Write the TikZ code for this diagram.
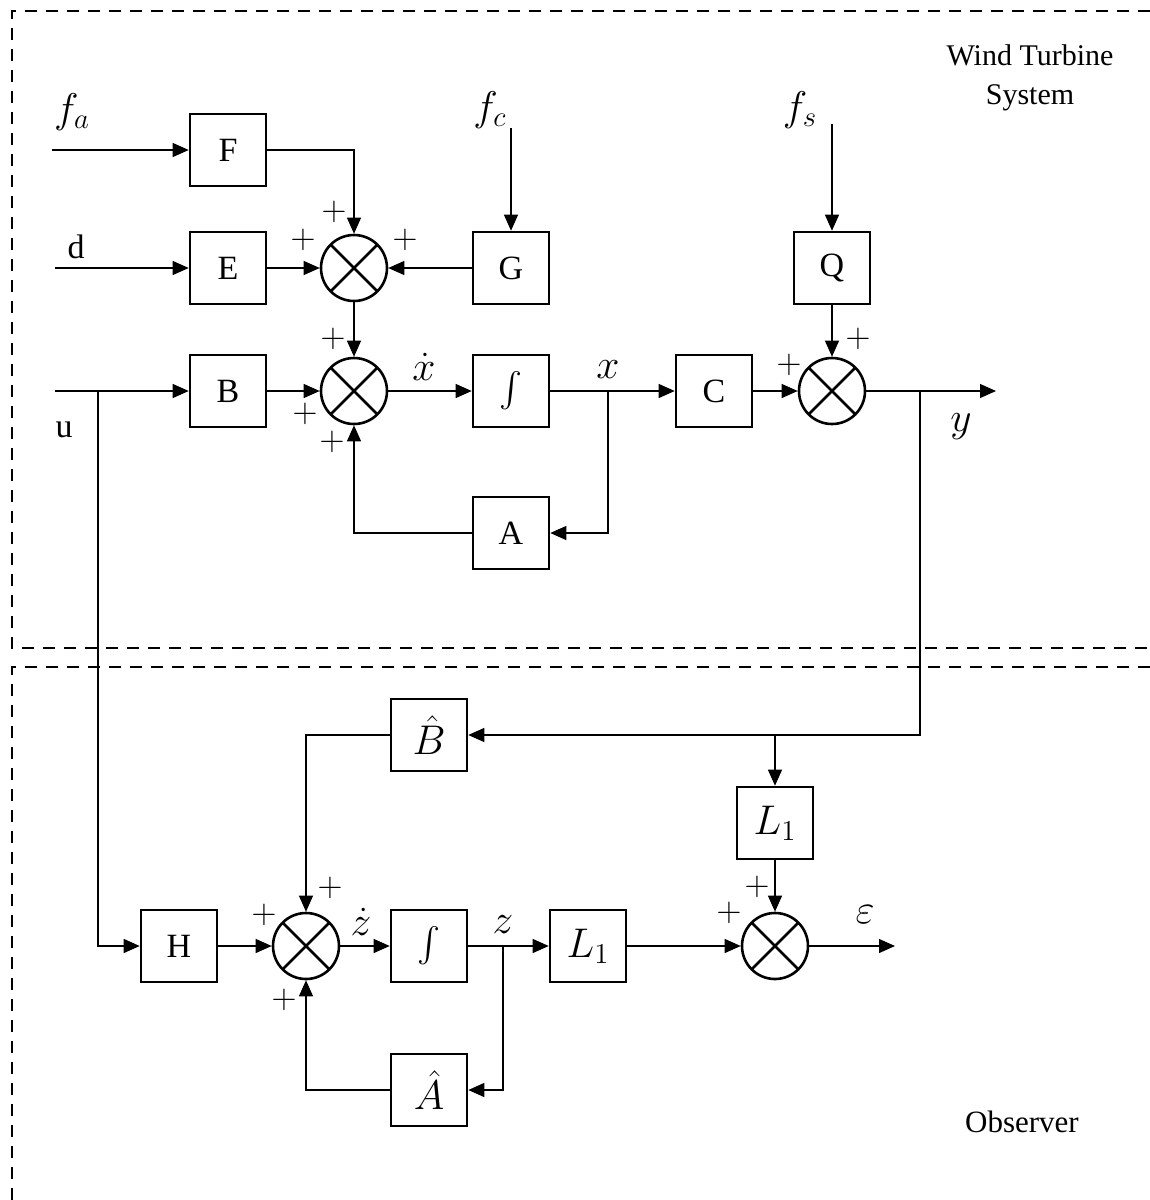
\documentclass[tikz,border=0pt]{standalone}
\usepackage{amsmath}
\usepackage{fontspec}
\setmainfont{Liberation Serif}
\usetikzlibrary{arrows.meta,positioning}

\begin{document}
\begin{tikzpicture}[x=0.5pt,y=-0.5pt,font=\fontsize{17}{20}\selectfont,
    >={Triangle[length=8pt,width=7pt]}]
  \tikzstyle{blk}=[draw,line width=1.3pt,minimum width=38pt,minimum height=36pt,inner sep=0pt]
  \tikzstyle{blkm}=[blk,font=\fontsize{20}{22}\selectfont]
  \tikzstyle{sumnode}=[draw,circle,line width=1.3pt,minimum size=33pt,inner sep=0pt,
    path picture={\draw[line width=1.3pt] (path picture bounding box.north west) -- (path picture bounding box.south east)
      (path picture bounding box.north east) -- (path picture bounding box.south west);}]
  \tikzstyle{wire}=[line width=0.6pt]
  \tikzstyle{frame}=[line width=1.4pt,dash pattern=on 6pt off 4.5pt]
  \tikzstyle{sgn}=[inner sep=0pt,font=\fontsize{17}{17}\selectfont]
  \tikzstyle{lbl}=[inner sep=0pt,font=\fontsize{20}{22}\selectfont]
  \useasboundingbox (0,0) rectangle (1150,1200);
  % dashed frames
  \draw[frame] (1150,11) -- (12,11) -- (12,648) -- (1150,648);
  \draw[frame] (1150,667) -- (12,667) -- (12,1200);
  \node[align=center,font=\fontsize{15}{19.5}\selectfont] (wts) at (1030,78) {Wind Turbine\\System};
  \node[font=\fontsize{15.5}{19.5}\selectfont] (obs) at (1022,1122) {Observer};
  % wind turbine system
  \node[blk] (F) at (228,150) {F};
  \node[blk] (E) at (228,268) {E};
  \node[blk] (B) at (228,391) {B};
  \node[sumnode] (s1) at (354,268) {};
  \node[sumnode] (s2) at (354,391) {};
  \node[blk] (G) at (511,268) {G};
  \node[blk] (I1) at (511,391) {$\int$};
  \node[blk] (A) at (511,533) {A};
  \node[blk] (C) at (714,391) {C};
  \node[blk] (Q) at (832,268) {Q};
  \node[sumnode] (s3) at (832,391) {};
  \coordinate (fa) at (52,150);
  \coordinate (din) at (55,268);
  \coordinate (uin) at (55,391);
  \coordinate (fc) at (511,128);
  \coordinate (fs) at (832,124);
  \coordinate (ub) at (98,391);
  \coordinate (xb) at (608,391);
  \coordinate (yb) at (920,391);
  \coordinate (yout) at (996,391);
  \node[lbl] (lfa) at (72,112) {$f_a$};
  \node (ld) at (76,247) {d};
  \node (lu) at (64,430) {u};
  \node[lbl] (lfc) at (490,110) {$f_c$};
  \node[lbl] (lfs) at (800,110) {$f_s$};
  \node[lbl] (ly) at (961,427) {$y$};
  \draw[wire,->] (fa) -- (F);
  \draw[wire,->] (din) -- (E);
  \draw[wire,->] (uin) -- (B);
  \draw[wire,->] (F) -| (s1);
  \draw[wire,->] (E) -- (s1);
  \draw[wire,->] (G) -- (s1);
  \draw[wire,->] (fc) -- (G);
  \draw[wire,->] (s1) -- (s2);
  \draw[wire,->] (B) -- (s2);
  \draw[wire,->] (s2) -- node[lbl,above=5pt,xshift=-3pt]{$\dot{x}$} (I1);
  \draw[wire,->] (I1) -- (C);
  \node[lbl,above=6pt of xb] (lx) {$x$};
  \draw[wire,->] (xb) |- (A);
  \draw[wire,->] (A) -| (s2);
  \draw[wire,->] (C) -- (s3);
  \draw[wire,->] (fs) -- (Q);
  \draw[wire,->] (Q) -- (s3);
  \draw[wire,->] (s3) -- (yout);
  \node[sgn] (p1) at (334,212) {$+$};
  \node[sgn] (p2) at (303,240) {$+$};
  \node[sgn] (p3) at (405,240) {$+$};
  \node[sgn] (p4) at (333,339) {$+$};
  \node[sgn] (p5) at (305,414) {$+$};
  \node[sgn] (p6) at (332,442) {$+$};
  \node[sgn] (p7) at (789,365) {$+$};
  \node[sgn] (p8) at (858,339) {$+$};
  % observer
  \node[blkm] (Bh) at (429,735) {$\hat{B}$};
  \node[blkm] (L1a) at (775,823) {$L_1$};
  \node[blk] (H) at (179,946) {H};
  \node[sumnode] (s4) at (306,946) {};
  \node[blk] (I2) at (429,946) {$\int$};
  \node[blkm] (L1b) at (588,946) {$L_1$};
  \node[sumnode] (s5) at (775,946) {};
  \node[blkm] (Ah) at (429,1090) {$\hat{A}$};
  \coordinate (zb) at (503,946);
  \coordinate (lb) at (775,735);
  \coordinate (eout) at (895,946);
  \node[lbl] (leps) at (865,915) {$\varepsilon$};
  \draw[wire,->] (ub) |- (H);
  \draw[wire,->] (yb) |- (Bh);
  \draw[wire,->] (lb) -- (L1a);
  \draw[wire,->] (Bh) -| (s4);
  \draw[wire,->] (H) -- (s4);
  \draw[wire,->] (s4) -- node[lbl,above=5pt,xshift=-2pt]{$\dot{z}$} (I2);
  \draw[wire,->] (I2) -- (L1b);
  \node[lbl,above=6pt of zb] (lz) {$z$};
  \draw[wire,->] (zb) |- (Ah);
  \draw[wire,->] (Ah) -| (s4);
  \draw[wire,->] (L1b) -- (s5);
  \draw[wire,->] (L1a) -- (s5);
  \draw[wire,->] (s5) -- (eout);
  \node[sgn] (p9) at (264,915) {$+$};
  \node[sgn] (p10) at (330,888) {$+$};
  \node[sgn] (p11) at (284,1000) {$+$};
  \node[sgn] (p12) at (729,913) {$+$};
  \node[sgn] (p13) at (757,887) {$+$};
\end{tikzpicture}
\end{document}
